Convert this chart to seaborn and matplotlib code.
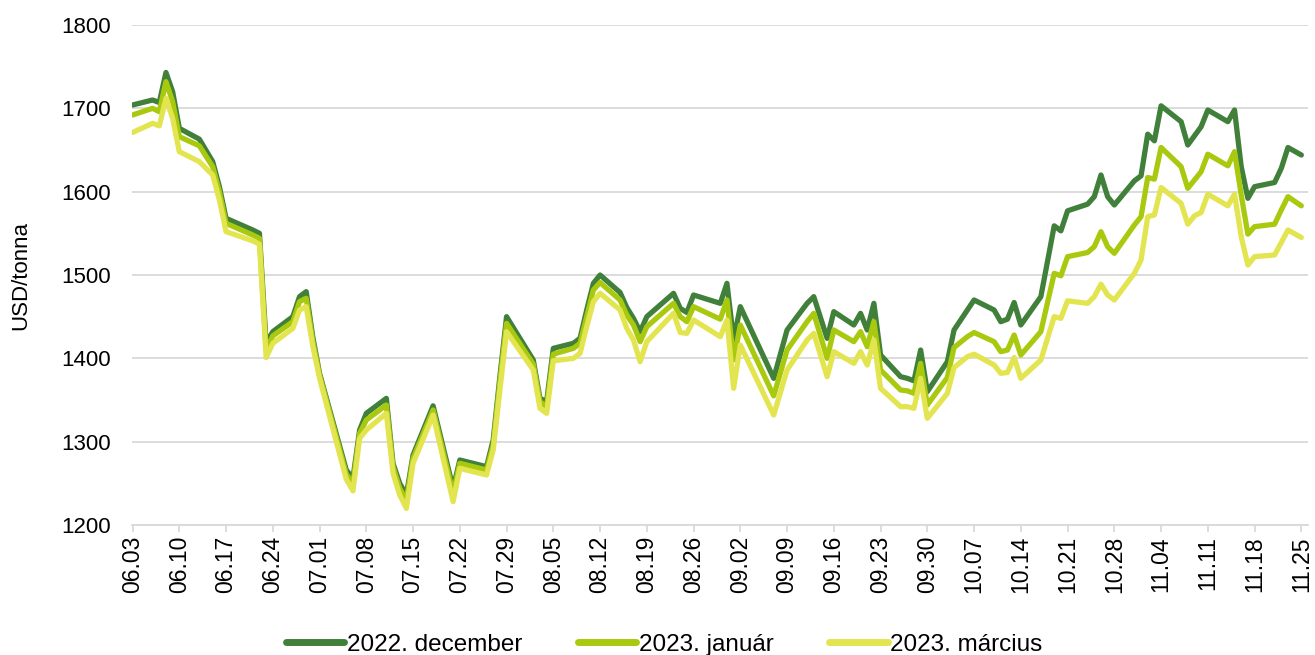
import matplotlib
matplotlib.use("Agg")
import matplotlib.pyplot as plt
import seaborn as sns
import pandas as pd
import numpy as np

# ---- data (USD/tonna) ----
dates = [
    "2022-06-03", "2022-06-06", "2022-06-07", "2022-06-08", "2022-06-09", "2022-06-10",
    "2022-06-13", "2022-06-15", "2022-06-16", "2022-06-17", "2022-06-21", "2022-06-22",
    "2022-06-23", "2022-06-24", "2022-06-27", "2022-06-28", "2022-06-29", "2022-06-30",
    "2022-07-01", "2022-07-05", "2022-07-06", "2022-07-07", "2022-07-08", "2022-07-11",
    "2022-07-12", "2022-07-13", "2022-07-14", "2022-07-15", "2022-07-18", "2022-07-21",
    "2022-07-22", "2022-07-25", "2022-07-26", "2022-07-27", "2022-07-28", "2022-07-29",
    "2022-08-02", "2022-08-03", "2022-08-04", "2022-08-05", "2022-08-08", "2022-08-09",
    "2022-08-10", "2022-08-11", "2022-08-12", "2022-08-15", "2022-08-16", "2022-08-17",
    "2022-08-18", "2022-08-19", "2022-08-23", "2022-08-24", "2022-08-25", "2022-08-26",
    "2022-08-30", "2022-08-31", "2022-09-01", "2022-09-02", "2022-09-07", "2022-09-09",
    "2022-09-12", "2022-09-13", "2022-09-15", "2022-09-16", "2022-09-19", "2022-09-20",
    "2022-09-21", "2022-09-22", "2022-09-23", "2022-09-26", "2022-09-27", "2022-09-28",
    "2022-09-29", "2022-09-30", "2022-10-03", "2022-10-04", "2022-10-06", "2022-10-07",
    "2022-10-10", "2022-10-11", "2022-10-12", "2022-10-13", "2022-10-14", "2022-10-17",
    "2022-10-19", "2022-10-20", "2022-10-21", "2022-10-24", "2022-10-25", "2022-10-26",
    "2022-10-27", "2022-10-28", "2022-10-31", "2022-11-01", "2022-11-02", "2022-11-03",
    "2022-11-04", "2022-11-07", "2022-11-08", "2022-11-09", "2022-11-10", "2022-11-11",
    "2022-11-14", "2022-11-15", "2022-11-16", "2022-11-17", "2022-11-18", "2022-11-21",
    "2022-11-22", "2022-11-23", "2022-11-25",
]

dec_2022 = [
    1704, 1710, 1707, 1743, 1720, 1676,
    1663, 1636, 1606, 1568, 1554, 1550,
    1418, 1432, 1450, 1474, 1480, 1425,
    1382, 1266, 1256, 1314, 1334, 1352,
    1274, 1250, 1236, 1284, 1343, 1244,
    1278, 1272, 1270, 1302, 1378, 1450,
    1398, 1352, 1348, 1412, 1418, 1424,
    1458, 1490, 1500, 1479, 1461, 1448,
    1432, 1450, 1478, 1460, 1455, 1476,
    1466, 1490, 1422, 1462, 1376, 1434,
    1466, 1474, 1424, 1456, 1440, 1454,
    1434, 1466, 1404, 1378, 1376, 1373,
    1410, 1360, 1396, 1434, 1458, 1470,
    1458, 1444, 1447, 1467, 1440, 1474,
    1559, 1553, 1577, 1585, 1594, 1620,
    1594, 1584, 1613, 1619, 1669, 1661,
    1703, 1684, 1656, 1667, 1678, 1698,
    1684, 1698, 1630, 1592, 1606, 1611,
    1628, 1653, 1644,
]

jan_2023 = [
    1692, 1700, 1696, 1732, 1708, 1666,
    1655, 1630, 1600, 1562, 1548, 1544,
    1410, 1427, 1444, 1468, 1472, 1420,
    1380, 1261, 1250, 1310, 1326, 1344,
    1270, 1244, 1230, 1280, 1338, 1238,
    1274, 1268, 1266, 1296, 1372, 1442,
    1393, 1348, 1342, 1405, 1412, 1418,
    1450, 1482, 1491, 1470, 1452, 1440,
    1420, 1438, 1466, 1450, 1444, 1462,
    1447, 1470, 1398, 1440, 1355, 1410,
    1444, 1454, 1400, 1434, 1420, 1432,
    1414, 1444, 1386, 1362, 1361, 1358,
    1394, 1344, 1377, 1413, 1426, 1431,
    1420, 1408, 1410, 1428, 1404, 1432,
    1502, 1499, 1522, 1527, 1534, 1552,
    1534, 1526, 1560, 1570, 1617, 1615,
    1653, 1630, 1604, 1614, 1624, 1645,
    1631, 1648, 1596, 1549, 1558, 1561,
    1578, 1594, 1583,
]

mar_2023 = [
    1671, 1682, 1679, 1712, 1688, 1648,
    1636, 1620, 1590, 1552, 1541, 1537,
    1401, 1418, 1436, 1458, 1462, 1414,
    1376, 1255, 1241, 1304, 1314, 1334,
    1262, 1236, 1220, 1274, 1332, 1228,
    1268, 1262, 1260, 1290, 1362, 1432,
    1386, 1340, 1334, 1397, 1400, 1406,
    1438, 1468, 1478, 1458, 1436, 1422,
    1396, 1420, 1454, 1431, 1430, 1446,
    1426, 1446, 1364, 1416, 1332, 1386,
    1422, 1430, 1378, 1408, 1394, 1408,
    1392, 1422, 1364, 1342, 1342, 1340,
    1376, 1328, 1358, 1389, 1402, 1405,
    1392, 1382, 1383, 1401, 1376, 1398,
    1450, 1448, 1469, 1466, 1474, 1489,
    1476, 1470, 1502, 1518, 1570, 1572,
    1605, 1586, 1561, 1571, 1575, 1597,
    1583, 1597, 1546, 1512, 1522, 1524,
    1539, 1554, 1545,
]

series_names = ["2022. december", "2023. január", "2023. március"]
series_colors = ["#41803a", "#a9c90f", "#e3e550"]
y_ticks = [1200, 1300, 1400, 1500, 1600, 1700, 1800]
y_label = "USD/tonna"

# ---- build long-form table ----
frames = []
for name, vals in zip(series_names, [dec_2022, jan_2023, mar_2023]):
    frames.append(pd.DataFrame({"date": pd.to_datetime(dates), "value": vals, "series": name}))
df = pd.concat(frames, ignore_index=True)

sns.set_theme(style="white")
plt.rcParams["font.family"] = ["Liberation Sans", "DejaVu Sans"]
plt.rcParams["text.color"] = "black"
plt.rcParams["axes.labelcolor"] = "black"
plt.rcParams["xtick.color"] = "black"
plt.rcParams["ytick.color"] = "black"

fig = plt.figure(figsize=(13.15, 6.55), dpi=100)
ax = fig.add_axes([132 / 1315, 1 - 525 / 655, (1308 - 132) / 1315, 500 / 655])

sns.lineplot(data=df, x="date", y="value", hue="series", hue_order=series_names,
             palette=series_colors, linewidth=3.8, ax=ax, legend=False,
             solid_capstyle="round", solid_joinstyle="round")

start = pd.Timestamp("2022-06-03")
end = pd.Timestamp("2022-11-25")
ax.set_xlim(start - pd.Timedelta(hours=2), start + pd.Timedelta(days=176))
ax.set_ylim(1200, 1800)

tick_dates = pd.date_range(start, end, freq="7D")
ax.set_xticks(tick_dates)
ax.set_xticklabels([d.strftime("%m.%d") for d in tick_dates], rotation=90,
                   fontsize=16.5, color="black")
ax.set_yticks(y_ticks)
ax.set_yticklabels([str(v) for v in y_ticks], fontsize=16, color="black")

ax.grid(axis="y", color="#d9d9d9", linewidth=1.3)
ax.set_axisbelow(True)
for s in ["top", "right", "left"]:
    ax.spines[s].set_visible(False)
ax.spines["bottom"].set_color("#d9d9d9")
ax.spines["bottom"].set_linewidth(1.3)
ax.tick_params(axis="x", length=5, width=1.3, color="#d9d9d9", labelcolor="black",
               pad=3, bottom=True)
ax.tick_params(axis="y", length=0, pad=15, labelcolor="black")

ax.set_xlabel("")
ax.set_ylabel(y_label, fontsize=16, labelpad=14, color="black")
ax.yaxis.set_label_coords(-0.086, 0.5)

handles = [plt.Line2D([0], [0], color=c, linewidth=5, solid_capstyle="round") for c in series_colors]
leg = fig.legend(handles, series_names, loc="center", bbox_to_anchor=(0.505, 0.016),
                 ncol=3, frameon=False, fontsize=17.5, handlelength=2.4,
                 handletextpad=0.1, columnspacing=2.3)
for t in leg.get_texts():
    t.set_color("black")

fig.savefig("out.png", dpi=100)
